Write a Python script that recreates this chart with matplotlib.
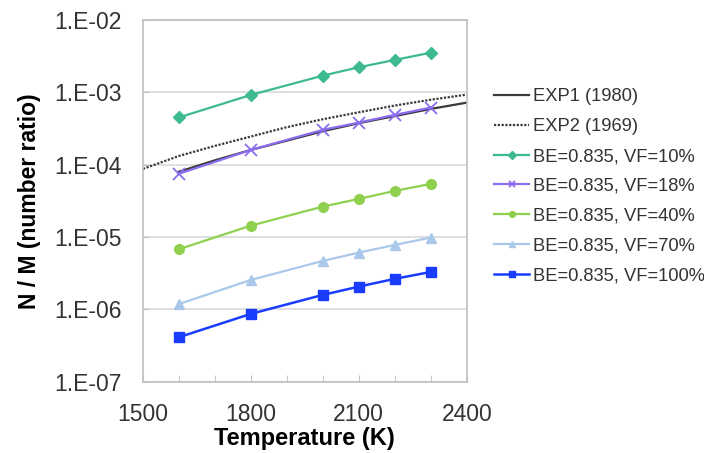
import math
import matplotlib
matplotlib.use("Agg")
import matplotlib.pyplot as plt
from matplotlib.ticker import FixedLocator, NullFormatter, FuncFormatter

plt.rcParams['font.family'] = ['Liberation Sans', 'DejaVu Sans']

# simulation temperatures (K)
temps = [1600, 1800, 2000, 2100, 2200, 2300]

vf10 = [4.5e-4, 9.2e-4, 1.70e-3, 2.22e-3, 2.8e-3, 3.53e-3]
vf18 = [7.5e-5, 1.6e-4, 3.03e-4, 3.82e-4, 4.88e-4, 6.15e-4]
vf40 = [6.8e-6, 1.44e-5, 2.64e-5, 3.37e-5, 4.35e-5, 5.43e-5]
vf70 = [1.19e-6, 2.56e-6, 4.69e-6, 6.1e-6, 7.8e-6, 9.85e-6]
vf100 = [4.14e-7, 8.7e-7, 1.59e-6, 2.07e-6, 2.65e-6, 3.3e-6]

exp1_t = [1600, 1700, 1800, 1900, 2000, 2100, 2200, 2300, 2400]
exp1 = [8.0e-5, 1.15e-4, 1.6e-4, 2.15e-4, 2.9e-4, 3.75e-4, 4.7e-4, 5.9e-4, 7.2e-4]
exp2_t = [1500, 1600, 1700, 1800, 1900, 2000, 2100, 2200, 2300, 2400]
exp2 = [8.75e-5, 1.32e-4, 1.82e-4, 2.45e-4, 3.3e-4, 4.25e-4, 5.3e-4, 6.56e-4, 7.9e-4, 9.3e-4]

fig = plt.figure(figsize=(7.04, 4.53), dpi=100)
ax = fig.add_axes([0.203, 0.157, 0.46, 0.799])

ax.plot(exp1_t, exp1, color="#3a3a3a", linewidth=1.6, label="EXP1 (1980)")
ax.plot(exp2_t, exp2, color="#3a3a3a", linewidth=1.6, linestyle=(0, (1.0, 0.7)), label="EXP2 (1969)")
ax.plot(temps, vf10, color="#3dba8f", marker="D", markersize=6.5, linewidth=1.6, label="BE=0.835, VF=10%")
ax.plot(temps, vf18, color="#8c6cf0", marker="x", markersize=8, markeredgewidth=1.3, linewidth=1.6, label="BE=0.835, VF=18%")
ax.plot(temps, vf40, color="#8fd14f", marker="o", markersize=7, linewidth=1.6, label="BE=0.835, VF=40%")
ax.plot(temps, vf70, color="#a9c8ea", marker="^", markersize=6.5, linewidth=1.6, label="BE=0.835, VF=70%")
ax.plot(temps, vf100, color="#1a3cff", marker="s", markersize=7.5, linewidth=1.8, label="BE=0.835, VF=100%")

ax.set_yscale("log")
ax.set_ylim(1e-7, 1e-2)
ax.set_xlim(1500, 2400)

ax.yaxis.set_major_locator(FixedLocator([1e-7, 1e-6, 1e-5, 1e-4, 1e-3, 1e-2]))
ax.yaxis.set_minor_locator(FixedLocator([]))
ax.yaxis.set_minor_formatter(NullFormatter())
ax.yaxis.set_major_formatter(FuncFormatter(lambda v, p: "1.E-%02d" % round(-math.log10(v))))
ax.set_xticks([1500, 1800, 2100, 2400])
ax.set_xticks(range(1500, 2401, 100), minor=True)

ax.grid(True, axis="y", color="#d9d9d9", linewidth=1.2)
for s in ax.spines.values():
    s.set_color("#bfbfbf")
    s.set_linewidth(1.2)
ax.tick_params(axis="both", which="both", direction="in", color="#bfbfbf", labelsize=16.5, labelcolor="#333333")
ax.tick_params(axis="x", which="both", length=5, pad=15)
ax.tick_params(axis="y", length=4, pad=15)

ax.set_xlabel("Temperature (K)", fontsize=17, fontweight="bold", labelpad=1)
ax.set_ylabel("N / M (number ratio)", fontsize=16.5, fontweight="bold", labelpad=10)

fig.legend(loc="upper left", bbox_to_anchor=(0.702, 0.805), frameon=False, fontsize=13.2,
           handlelength=1.9, handletextpad=0.2, labelspacing=0.70, borderaxespad=0, borderpad=0,
           labelcolor="#333333", markerscale=0.6)

fig.savefig("out.png", dpi=100)
